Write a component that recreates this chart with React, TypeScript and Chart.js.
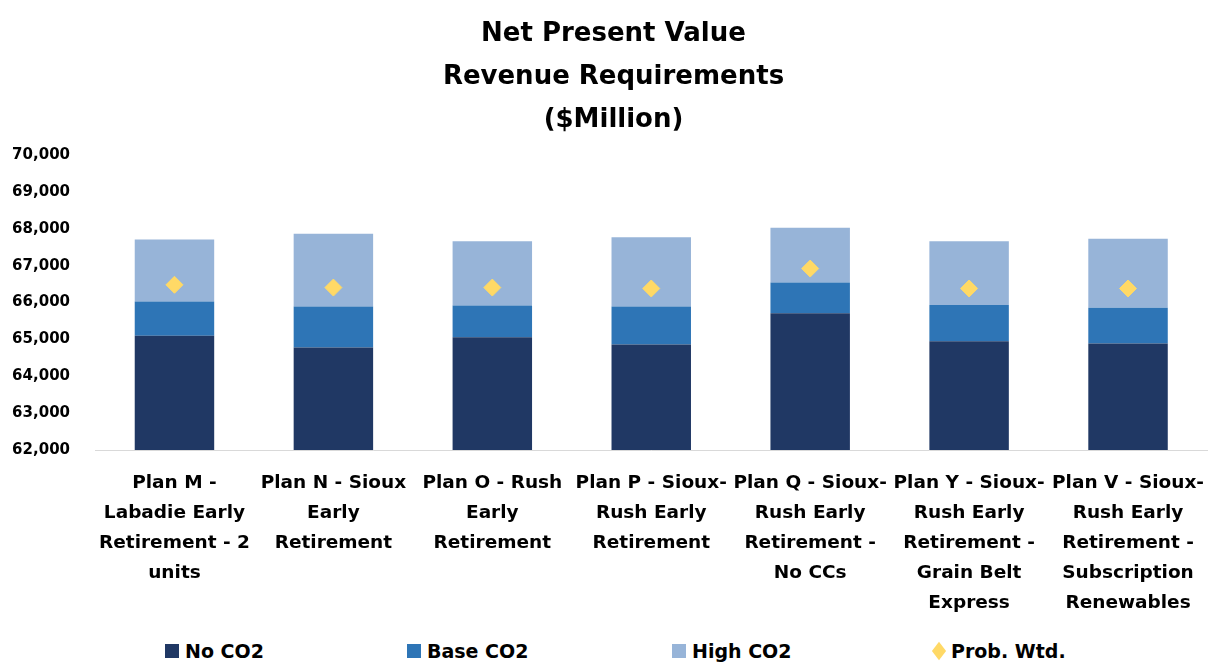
import React, { useEffect, useRef } from "react";
import { Chart, registerables } from "chart.js";

Chart.register(...registerables);

const FONT = "'DejaVu Sans', 'Open Sans', sans-serif";

const titleLines = ["Net Present Value", "Revenue Requirements", "($Million)"];

const categories: string[][] = [
  ["Plan M -", "Labadie Early", "Retirement - 2", "units"],
  ["Plan N - Sioux", "Early", "Retirement"],
  ["Plan O - Rush", "Early", "Retirement"],
  ["Plan P - Sioux-", "Rush Early", "Retirement"],
  ["Plan Q - Sioux-", "Rush Early", "Retirement -", "No CCs"],
  ["Plan Y - Sioux-", "Rush Early", "Retirement -", "Grain Belt", "Express"],
  ["Plan V - Sioux-", "Rush Early", "Retirement -", "Subscription", "Renewables"],
];

const seriesNames = ["No CO2", "Base CO2", "High CO2", "Prob. Wtd."];
const seriesColors = ["#203864", "#2E75B6", "#97B4D8", "#FFD966"];

// Top of each scenario (in $Million)
const noCO2 = [65100, 64780, 65060, 64860, 65710, 64950, 64890];
const baseCO2 = [66030, 65890, 65920, 65890, 66540, 65930, 65860];
const highCO2 = [67710, 67865, 67660, 67770, 68030, 67660, 67730];
const probWtd = [66480, 66405, 66405, 66380, 66920, 66380, 66380];

const yMin = 62000;
const yMax = 70000;
const yStep = 1000;

export default function App() {
  const canvasRef = useRef<HTMLCanvasElement | null>(null);

  useEffect(() => {
    if (!canvasRef.current) return;
    const baseSeg = baseCO2.map((v, i) => v - noCO2[i]);
    const highSeg = highCO2.map((v, i) => v - baseCO2[i]);
    const chart = new Chart(canvasRef.current, {
      type: "bar",
      data: {
        labels: categories,
        datasets: [
          { type: "bar", label: seriesNames[0], data: noCO2, backgroundColor: seriesColors[0], stack: "s", order: 1 },
          { type: "bar", label: seriesNames[1], data: baseSeg, backgroundColor: seriesColors[1], stack: "s", order: 1 },
          { type: "bar", label: seriesNames[2], data: highSeg, backgroundColor: seriesColors[2], stack: "s", order: 1 },
          {
            type: "line",
            label: seriesNames[3],
            data: probWtd,
            showLine: false,
            pointStyle: "rectRot",
            pointRadius: 8.5,
            pointBackgroundColor: seriesColors[3],
            pointBorderColor: seriesColors[3],
            backgroundColor: seriesColors[3],
            borderColor: seriesColors[3],
            stack: "p",
            order: 0,
          } as any,
        ],
      },
      options: {
        animation: false,
        responsive: false,
        maintainAspectRatio: false,
        layout: { padding: { left: 12, right: 2, top: 0, bottom: 0 } },
        datasets: {
          bar: { categoryPercentage: 1, barPercentage: 0.5, borderWidth: 0 },
        },
        plugins: {
          legend: { display: false },
          tooltip: { enabled: false },
          title: {
            display: true,
            text: titleLines,
            color: "#000",
            font: { family: FONT, size: 26, weight: "bold", lineHeight: 43 / 26 },
            padding: { top: 13, bottom: 13 },
          },
        },
        scales: {
          x: {
            stacked: true,
            grid: { display: false, drawTicks: false },
            border: { display: true, color: "#D9D9D9", width: 1 },
            ticks: {
              color: "#000",
              font: { family: FONT, size: 18.5, weight: "bold", lineHeight: 30 / 18.5 },
              padding: 18,
              maxRotation: 0,
              autoSkip: false,
            },
            afterFit: (s: any) => {
              s.paddingLeft = 0;
              s.paddingRight = 0;
            },
          },
          y: {
            stacked: true,
            min: yMin,
            max: yMax,
            grid: { display: false, drawTicks: false },
            border: { display: false },
            ticks: {
              stepSize: yStep,
              color: "#000",
              padding: 25,
              font: { family: FONT, size: 15, weight: "bold" },
              callback: (v: any) => Number(v).toLocaleString("en-US"),
            },
            afterFit: (s: any) => {
              s.width = 83;
            },
          },
        },
      },
    });
    return () => chart.destroy();
  }, []);

  const legendLefts = [165, 407, 672, 932];

  return (
    <div style={{ position: "absolute", left: 0, top: 0, width: 1217, height: 662, background: "#fff", overflow: "hidden" }}>
      <canvas ref={canvasRef} width={1217} height={636} style={{ display: "block" }} />
      {seriesNames.map((name, i) => (
        <div
          key={name}
          style={{
            position: "absolute",
            left: legendLefts[i],
            top: 640,
            height: 22,
            display: "flex",
            alignItems: "center",
            fontFamily: FONT,
            fontWeight: "bold",
            fontSize: 19,
            color: "#000",
            whiteSpace: "nowrap",
          }}
        >
          {i < 3 ? (
            <span style={{ display: "inline-block", width: 14, height: 14, background: seriesColors[i], marginRight: 6 }} />
          ) : (
            <span
              style={{
                display: "inline-block",
                width: 10,
                height: 10,
                background: seriesColors[i],
                transform: "scaleY(1.3) rotate(45deg)",
                marginLeft: 2,
                marginRight: 7,
              }}
            />
          )}
          <span>{name}</span>
        </div>
      ))}
    </div>
  );
}
